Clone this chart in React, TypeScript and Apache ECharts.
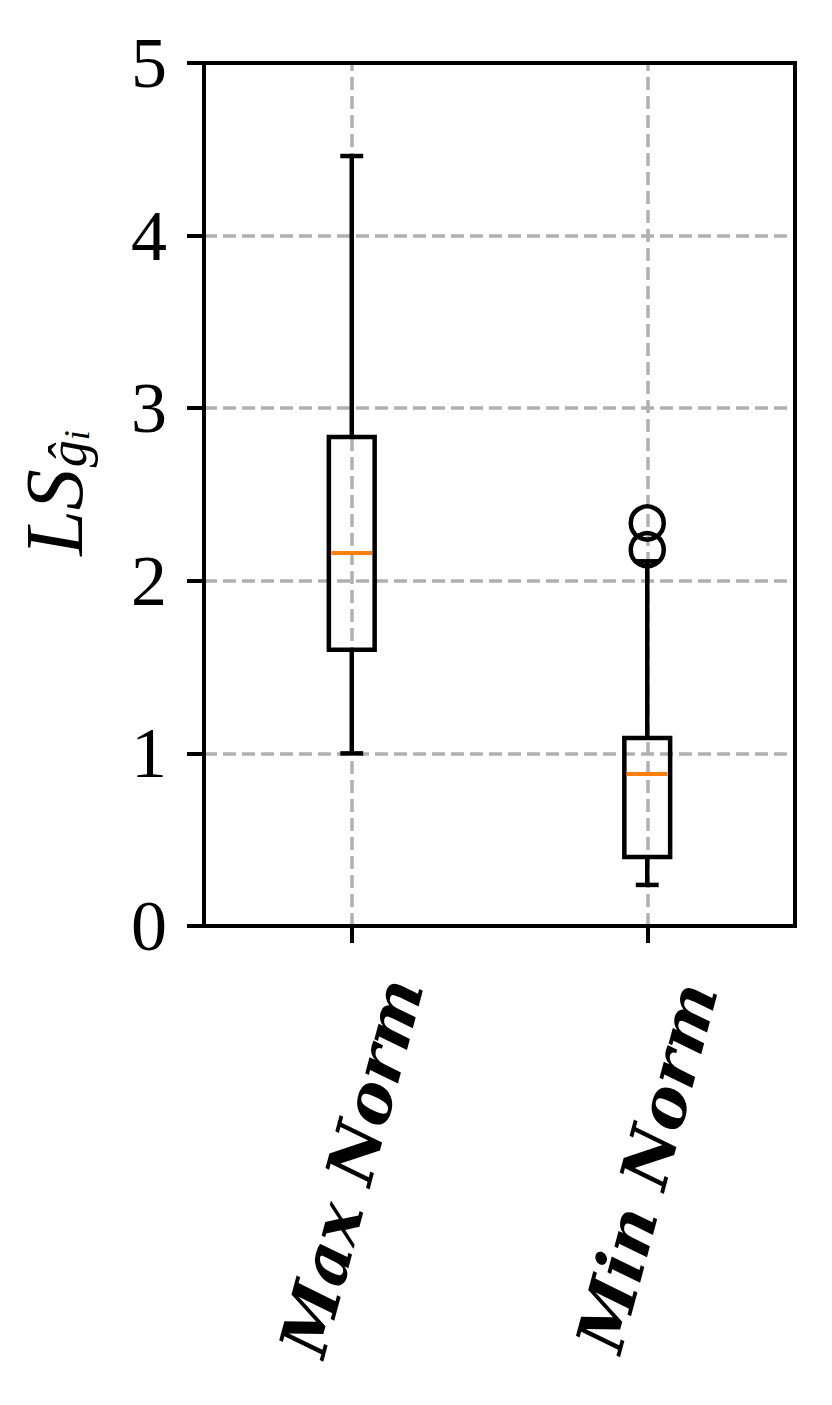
import React, { useEffect, useRef } from "react";
import * as echarts from "echarts";

const categories = ["Max Norm", "Min Norm"];
const whiskerLow = [1.0, 0.238];
const q1 = [1.6, 0.4];
const median = [2.161, 0.881];
const q3 = [2.833, 1.089];
const whiskerHigh = [4.461, 2.113];
const outliers: [number, number][] = [
  [1, 2.18],
  [1, 2.335],
];
const yTicks = [0, 1, 2, 3, 4, 5];

export default function App() {
  const ref = useRef<HTMLDivElement>(null);
  useEffect(() => {
    document.body.style.margin = "0";
    const chart = echarts.init(ref.current!, undefined, { renderer: "svg" });
    const boxData = categories.map((_, i) => [i, whiskerLow[i], q1[i], median[i], q3[i], whiskerHigh[i]]);
    const lineStyle = { stroke: "#000", lineWidth: 4.5, fill: "none" };
    const gridDash = { color: "#b0b0b0", width: 3.5, type: [13, 6] as number[] };
    chart.setOption({
      animation: false,
      backgroundColor: "#fff",
      grid: {
        left: 204,
        top: 63,
        width: 591,
        height: 863,
        show: true,
        borderColor: "#000",
        borderWidth: 4,
        backgroundColor: "transparent",
        z: 10,
      },
      xAxis: {
        type: "category",
        data: categories,
        boundaryGap: true,
        axisLine: { show: true, lineStyle: { color: "#000", width: 4 } },
        axisTick: { show: true, alignWithLabel: true, length: 17, lineStyle: { color: "#000", width: 4 } },
        splitLine: { show: false },
        axisLabel: {
          rotate: 75,
          align: "center",
          verticalAlign: "middle",
          margin: 241,
          color: "#000",
          fontFamily: "DejaVu Serif",
          fontWeight: "bold",
          fontStyle: "italic",
          fontSize: 66,
        },
      },
      yAxis: {
        type: "value",
        min: 0,
        max: 5,
        interval: 1,
        axisLine: { show: true, lineStyle: { color: "#000", width: 4 } },
        axisTick: { show: true, length: 17, lineStyle: { color: "#000", width: 4 } },
        splitLine: { show: true, showMinLine: false, showMaxLine: false, lineStyle: gridDash },
        axisLabel: {
          margin: 37,
          color: "#000",
          fontFamily: "Liberation Serif",
          fontSize: 72,
          formatter: (v: number) => (yTicks.includes(v) ? String(v) : ""),
        },
      },
      graphic: [
        {
          type: "text",
          x: 54,
          y: 493,
          rotation: Math.PI / 2,
          style: {
            text: "{a|LS}{b|ĝ}{c|i}",
            align: "center",
            verticalAlign: "middle",
            rich: {
              a: { fontFamily: "Liberation Serif", fontStyle: "italic", fontSize: 82, fill: "#000", verticalAlign: "bottom", lineHeight: 82 },
              b: { fontFamily: "Liberation Serif", fontStyle: "italic", fontSize: 54, fill: "#000", verticalAlign: "bottom", lineHeight: 22, padding: [0, 0, 0, 2] },
              c: { fontFamily: "Liberation Serif", fontStyle: "italic", fontSize: 36, fill: "#000", verticalAlign: "bottom", lineHeight: 8 },
            },
          },
        },
      ],
      series: [
        {
          type: "custom",
          data: boxData,
          encode: { x: 0, y: [1, 2, 3, 4, 5] },
          renderItem: (params: any, api: any) => {
            const x = api.value(0);
            const lo = api.coord([x, api.value(1)]);
            const b1 = api.coord([x, api.value(2)]);
            const md = api.coord([x, api.value(3)]);
            const b3 = api.coord([x, api.value(4)]);
            const hi = api.coord([x, api.value(5)]);
            const band = api.size([1, 0])[0];
            const bw = band * 0.155;
            const cw = bw / 2;
            const cx = lo[0];
            return {
              type: "group",
              children: [
                { type: "line", shape: { x1: cx, y1: lo[1], x2: cx, y2: b1[1] }, style: lineStyle },
                { type: "line", shape: { x1: cx, y1: b3[1], x2: cx, y2: hi[1] }, style: lineStyle },
                { type: "line", shape: { x1: cx - cw / 2, y1: lo[1], x2: cx + cw / 2, y2: lo[1] }, style: lineStyle },
                { type: "line", shape: { x1: cx - cw / 2, y1: hi[1], x2: cx + cw / 2, y2: hi[1] }, style: lineStyle },
                { type: "rect", shape: { x: cx - bw / 2, y: b3[1], width: bw, height: b1[1] - b3[1] }, style: { stroke: "#000", lineWidth: 4.5, fill: "none" } },
                { type: "line", shape: { x1: cx - bw / 2 + 2.5, y1: md[1], x2: cx + bw / 2 - 2.5, y2: md[1] }, style: { stroke: "#ff7f0e", lineWidth: 4 } },
              ],
            };
          },
          markLine: {
            silent: true,
            symbol: "none",
            label: { show: false },
            lineStyle: gridDash,
            data: categories.map((c) => ({ xAxis: c })),
            z: 1,
          },
          z: 5,
        },
        {
          type: "scatter",
          data: outliers,
          symbol: "circle",
          symbolSize: 33,
          itemStyle: { color: "rgba(0,0,0,0)", borderColor: "#000", borderWidth: 4.5, opacity: 1 },
          z: 6,
        },
      ],
    });
    return () => chart.dispose();
  }, []);
  return <div ref={ref} style={{ width: 832, height: 1405 }} />;
}
